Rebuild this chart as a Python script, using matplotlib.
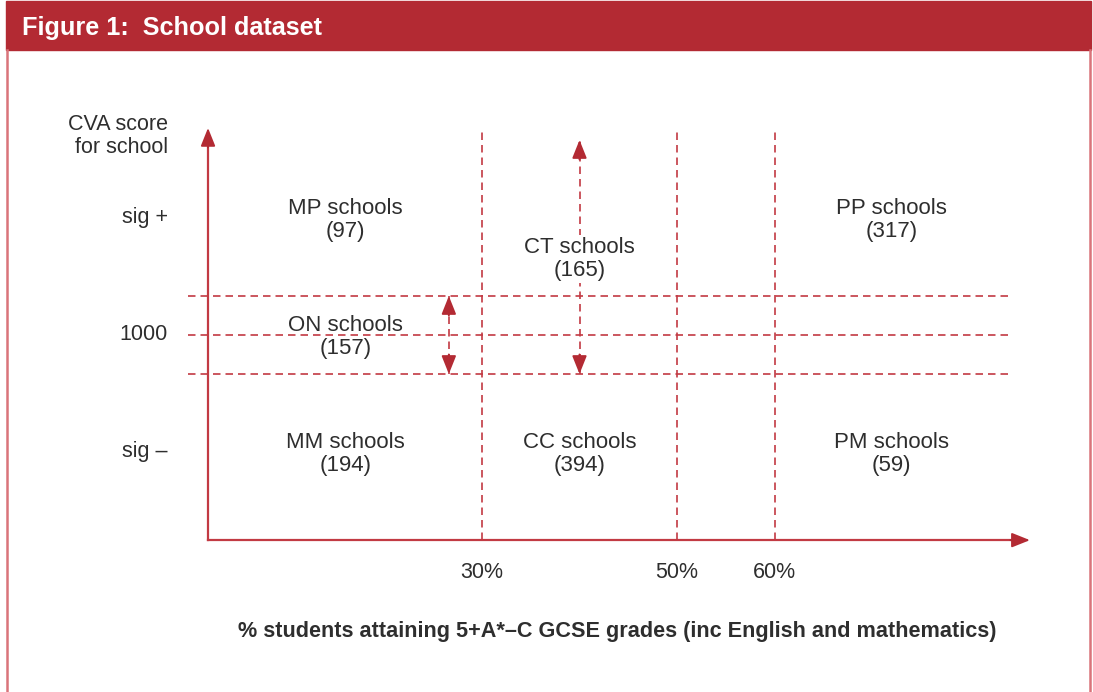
"""Figure 1: School dataset - schematic of CVA score vs GCSE attainment groups."""

import matplotlib
matplotlib.use("Agg")
import matplotlib.pyplot as plt
from matplotlib.patches import Rectangle
from matplotlib.lines import Line2D

# =============================================================================
# Data
# =============================================================================

title = "Figure 1:  School dataset"
x_label = "% students attaining 5+A*\u2013C GCSE grades (inc English and mathematics)"
y_label = "CVA score\nfor school"

x_thresholds = [30, 50, 60]                    # % attainment cut points
x_tick_labels = ["30%", "50%", "60%"]
y_levels = [3, 0, -3]                          # schematic CVA levels
y_tick_labels = ["sig +", "1000", "sig \u2013"]
band_lines = [1, 0, -1]                        # significance band around 1000

groups = ["MP", "CT", "PP", "ON", "MM", "CC", "PM"]
counts = [97, 165, 317, 157, 194, 394, 59]
group_x = [16, 40, 72, 16, 16, 40, 72]
group_y = [3, 2, 3, 0, -3, -3, -3]

# =============================================================================
# Styling
# =============================================================================

RED = "#B32A33"
LINE_RED = "#C23A43"
BORDER = "#D9747A"
TEXT = "#2E2E2E"
FONT = ["Liberation Sans", "DejaVu Sans"]

W, H = 1093, 692
fig = plt.figure(figsize=(W / 100, H / 100), dpi=100)
ax = fig.add_axes([0, 0, 1, 1])
ax.set_axis_off()

# pixel layout -> schematic coordinates (x in %, y in sig units around 1000)
px0, px_per = 189.5, 9.75
py0, py_per = 335.0, 39.0
ax.set_xlim((0 - px0) / px_per, (W - px0) / px_per)
ax.set_ylim((py0 - H) / py_per, (py0 - 0) / py_per)

x_origin, x_end = 1.9, 86.2
y_origin, y_top = -5.26, 5.31
line_left, line_right = -0.15, 84.15

# header band and side borders (figure coords)
fig.patches.append(Rectangle((6 / W, 1 - 50 / H), (1091 - 6) / W, 49 / H,
                             transform=fig.transFigure, color=RED, zorder=0))
for bx in (7 / W, 1090 / W):
    fig.lines.append(Line2D([bx, bx], [0, 1 - 50 / H], transform=fig.transFigure,
                            color=BORDER, lw=1.8))
fig.text(22 / W, 1 - 28 / H, title, color="white", fontsize=18.2, fontweight="bold",
         family=FONT, va="center", ha="left")

dash = dict(color=LINE_RED, lw=1.2, dashes=(4.5, 3))

# horizontal significance band lines
for yv in band_lines:
    ax.plot([line_left, line_right], [yv, yv], **dash)

# vertical threshold lines
for xv in x_thresholds:
    ax.plot([xv, xv], [y_origin, y_top], **dash)

# axes with arrowheads
head = dict(arrowstyle="-|>,head_length=11,head_width=4.4", color=RED, lw=1.4,
            mutation_scale=1, shrinkA=0, shrinkB=0)
ax.plot([x_origin, x_origin], [y_origin, y_top - 0.3], color=LINE_RED, lw=1.6)
ax.plot([x_origin, x_end - 1], [y_origin, y_origin], color=LINE_RED, lw=1.6)
ax.annotate("", xy=(x_origin, y_top), xytext=(x_origin, y_top - 0.5), arrowprops=head)
ax.annotate("", xy=(x_end, y_origin), xytext=(x_end - 2, y_origin), arrowprops=head)

# double-headed dashed arrows showing range of ON and CT groups
for xv, top in [(26.6, 1.0), (40.0, 5.0)]:
    ax.plot([xv, xv], [-1, top], **dash)
    ax.annotate("", xy=(xv, top), xytext=(xv, top - 0.5), arrowprops=head)
    ax.annotate("", xy=(xv, -1), xytext=(xv, -0.5), arrowprops=head)

# group labels (white backing hides the CT arrow behind its label)
white = dict(facecolor="white", edgecolor="none", pad=1)
for g, n, gx, gy in zip(groups, counts, group_x, group_y):
    ax.text(gx, gy - 0.05, f"{g} schools\n({n})", ha="center", va="center",
            fontsize=16, color=TEXT, family=FONT, linespacing=1.17,
            bbox=None if gy == 0 else white, zorder=5)

# tick labels
for yv, lab in zip(y_levels, y_tick_labels):
    ax.text(-2.2, yv, lab, ha="right", va="center", fontsize=15.5, color=TEXT, family=FONT)
for xv, lab in zip(x_thresholds, x_tick_labels):
    ax.text(xv, -6.1, lab, ha="center", va="center", fontsize=15.5, color=TEXT, family=FONT)

ax.text(-2.2, 5.1, y_label, ha="right", va="center", fontsize=15.5, color=TEXT,
        family=FONT, linespacing=1.17)
ax.text(43.9, -7.6, x_label, ha="center", va="center", fontsize=15.6, fontweight="bold",
        color=TEXT, family=FONT)

fig.savefig("out.png", dpi=100)
